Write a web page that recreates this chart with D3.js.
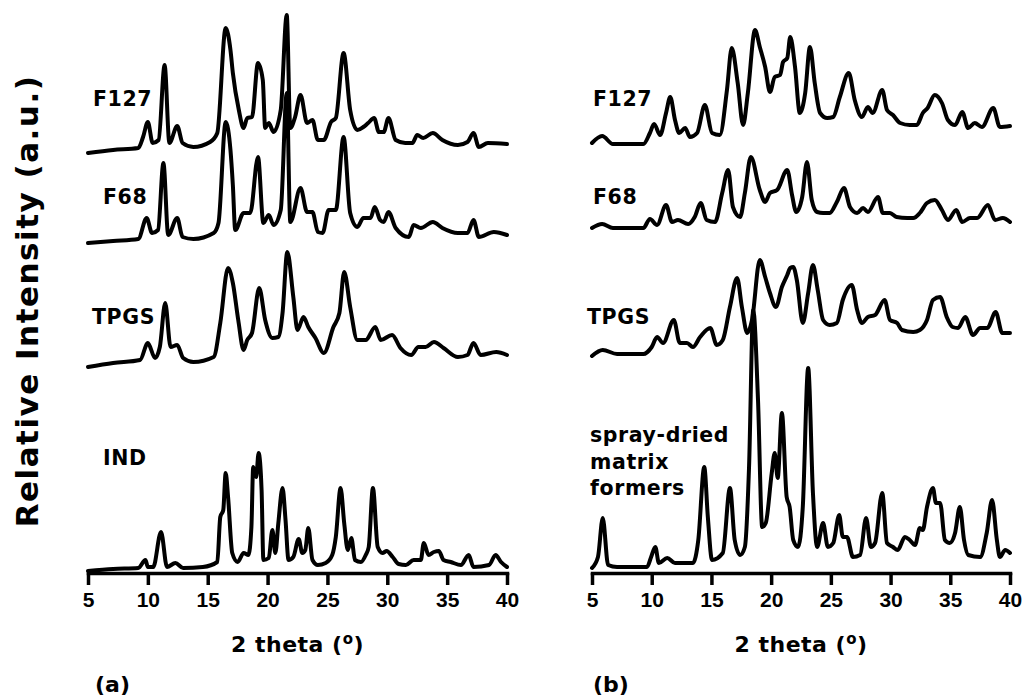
<!DOCTYPE html>
<html>
<head>
<meta charset="utf-8">
<script src="https://cdn.jsdelivr.net/npm/d3@7"></script>
<style>
  body { margin: 0; background: #fff; }
  svg { display: block; }
  .lbl { font-family: "DejaVu Sans", Verdana, sans-serif; font-weight: bold; fill: #000; }
  .tick text { font-family: "Liberation Sans", Arial, sans-serif; font-weight: bold; font-size: 21px; fill: #000; }
</style>
</head>
<body>
<svg id="chart" width="1025" height="700"></svg>
<script>
// x ticks (2 theta, degrees)
var thetaTicks = [5, 10, 15, 20, 25, 30, 35, 40];

// series names and vertical stacking offsets (a.u.)
var seriesA = ["F127", "F68", "TPGS", "IND"];
var offsetsA = [423, 333, 213, 5];
var seriesB = ["F127", "F68", "TPGS", "spray-dried matrix formers"];
var offsetsB = [430, 347, 219, 7];

// panel (a): [2theta, intensity]
var f127A = [[5.0,-3],[7.1,0],[9.2,2],[9.6,13],[10.0,28],[10.4,7],[10.9,10],[11.4,85],[11.8,7],[12.45,24],[12.9,7],[13.8,3],[15.2,8],[15.8,17],[16.5,122],[16.9,100],[17.1,77],[17.6,40],[18.0,22],[18.3,32],[18.7,33],[19.2,87],[19.6,70],[19.8,22],[20.1,27],[20.5,18],[21.1,40],[21.6,135],[21.9,22],[22.3,33],[22.75,55],[23.3,27],[23.75,30],[24.2,10],[24.7,10],[25.3,28],[25.7,32],[26.35,97],[26.9,40],[27.5,20],[28.0,23],[28.4,27],[28.9,32],[29.3,18],[29.7,18],[30.1,32],[30.7,10],[31.5,7],[32.1,7],[32.5,15],[33.0,12],[33.8,17],[34.6,10],[35.9,5],[36.7,8],[37.2,17],[37.65,3],[38.4,7],[40.0,6]];
var f68A = [[5.0,-3],[7.1,-1],[9.2,1],[9.9,22],[10.35,7],[10.85,10],[11.3,77],[11.7,5],[12.45,22],[12.9,3],[13.8,1],[15.5,7],[15.9,17],[16.5,118],[16.9,90],[17.1,55],[17.3,10],[18.0,27],[18.55,27],[19.2,83],[19.65,17],[20.1,25],[20.5,15],[21.1,30],[21.6,147],[21.9,18],[22.75,52],[23.3,28],[23.75,28],[24.2,8],[24.6,7],[25.1,30],[25.7,30],[26.35,103],[26.9,27],[27.5,13],[28.0,22],[28.6,22],[28.95,33],[29.4,20],[29.7,18],[30.1,28],[30.7,12],[31.8,3],[32.2,15],[32.8,12],[33.8,18],[34.6,12],[35.9,7],[36.7,7],[37.2,20],[37.65,3],[38.9,8],[40.0,5]];
var tpgsA = [[5.0,-7],[7.1,-3],[9.35,0],[10.0,17],[10.6,2],[11.0,13],[11.45,57],[11.9,13],[12.45,15],[12.95,2],[13.8,-2],[15.5,3],[16.05,37],[16.7,92],[17.1,77],[17.55,40],[18.0,10],[18.3,20],[18.7,27],[19.3,72],[19.8,40],[20.4,22],[20.9,23],[21.25,47],[21.65,108],[22.15,63],[22.5,30],[23.0,43],[23.4,33],[24.0,22],[24.7,7],[25.5,33],[26.0,47],[26.4,88],[26.9,53],[27.5,20],[28.2,20],[29.0,33],[29.45,20],[30.4,25],[31.1,12],[32.0,5],[32.6,13],[33.2,13],[33.9,18],[34.7,12],[35.9,3],[36.7,5],[37.2,17],[37.8,5],[39.1,8],[40.0,5]];
var indA = [[5.0,-3],[7.1,-1],[9.2,0],[9.8,8],[10.0,1],[10.45,1],[11.1,36],[11.6,1],[12.3,5],[12.95,0],[14.6,1],[15.8,6],[16.05,51],[16.3,58],[16.5,95],[16.7,71],[17.05,15],[17.5,6],[18.0,15],[18.4,13],[18.65,41],[18.8,101],[19.05,91],[19.25,115],[19.5,78],[19.65,8],[20.1,10],[20.4,38],[20.65,15],[20.9,45],[21.25,80],[21.5,48],[21.75,8],[22.15,11],[22.6,29],[22.9,15],[23.15,18],[23.4,40],[23.75,8],[24.2,3],[24.85,5],[25.4,13],[25.7,31],[26.1,80],[26.4,45],[26.7,18],[27.0,30],[27.3,8],[27.8,6],[28.2,13],[28.45,21],[28.8,80],[29.2,21],[29.6,15],[29.95,17],[30.45,11],[30.95,4],[31.55,3],[32.2,8],[32.8,8],[33.05,25],[33.45,13],[33.9,16],[34.3,17],[34.7,8],[35.3,6],[36.15,3],[36.8,13],[37.2,1],[38.5,3],[39.05,13],[39.5,6],[40.0,1]];

// panel (b): [2theta, intensity]
var f127B = [[5.0,0],[5.85,7],[6.75,-1],[9.3,-1],[9.85,10],[10.2,19],[10.7,8],[11.2,30],[11.55,46],[11.95,23],[12.3,10],[12.8,15],[13.2,6],[13.8,10],[14.45,38],[15.05,10],[15.7,8],[16.3,53],[16.7,95],[17.2,60],[17.65,18],[18.05,50],[18.65,113],[19.05,96],[19.5,76],[19.9,51],[20.3,66],[20.75,68],[21.0,81],[21.35,85],[21.6,106],[22.0,76],[22.4,30],[22.85,50],[23.25,96],[23.65,60],[24.1,30],[24.7,25],[25.2,26],[25.75,46],[26.5,70],[27.0,43],[27.6,26],[28.1,36],[28.5,30],[29.3,53],[29.7,33],[30.2,28],[30.8,20],[31.6,18],[32.2,18],[32.7,30],[33.1,35],[33.7,48],[34.3,40],[34.8,23],[35.4,18],[36.0,31],[36.5,15],[37.05,20],[37.65,16],[38.6,35],[39.15,16],[40.0,17]];
var f68B = [[5.0,-2],[5.85,2],[6.75,-2],[9.3,-2],[9.85,7],[10.45,1],[11.2,21],[11.7,4],[12.2,6],[13.05,2],[13.6,9],[14.1,23],[14.6,6],[15.3,4],[15.9,33],[16.4,56],[16.8,19],[17.4,9],[17.8,33],[18.3,69],[19.05,36],[19.5,24],[19.9,33],[20.5,36],[21.35,56],[21.75,31],[22.1,14],[22.6,29],[23.0,64],[23.4,26],[23.85,14],[24.35,13],[24.9,13],[25.5,24],[26.1,38],[26.6,19],[27.2,13],[27.7,18],[28.1,14],[28.95,29],[29.35,13],[29.95,13],[30.5,9],[31.4,8],[31.9,8],[32.45,13],[33.05,23],[33.7,26],[34.3,16],[34.8,6],[35.5,16],[36.0,4],[36.65,8],[37.25,8],[38.15,21],[38.75,6],[39.4,8],[40.0,4]];
var tpgsB = [[5.0,-2],[5.9,4],[7.1,0],[9.3,0],[10.0,7],[10.45,17],[10.95,11],[11.85,34],[12.35,11],[12.95,11],[13.45,7],[14.05,17],[14.9,26],[15.45,9],[15.95,14],[16.55,47],[17.15,76],[17.55,47],[18.0,21],[18.4,34],[19.05,94],[19.5,77],[19.9,61],[20.4,47],[20.9,67],[21.35,79],[21.6,86],[21.85,87],[22.15,74],[22.65,31],[23.1,61],[23.5,89],[23.9,64],[24.35,34],[24.9,29],[25.5,31],[26.0,54],[26.75,69],[27.2,44],[27.6,31],[28.1,37],[28.7,39],[29.5,54],[29.95,34],[30.55,31],[30.95,24],[31.9,22],[32.45,24],[33.05,34],[33.55,54],[34.15,57],[34.7,37],[35.2,27],[35.65,26],[36.25,37],[36.9,19],[37.5,26],[38.1,26],[38.8,42],[39.35,21],[40.0,21]];
var sprayB = [[5.0,-2],[5.5,9],[5.9,48],[6.35,1],[7.1,-1],[9.6,-1],[9.95,9],[10.3,19],[10.6,3],[11.3,8],[11.95,3],[13.45,3],[13.9,26],[14.4,99],[14.7,49],[15.05,6],[15.95,13],[16.55,78],[16.95,26],[17.4,11],[17.8,19],[18.15,99],[18.5,256],[18.9,166],[19.25,39],[19.55,43],[20.05,93],[20.3,113],[20.55,88],[20.9,153],[21.3,69],[21.55,59],[21.85,26],[22.25,19],[22.65,59],[23.1,198],[23.5,73],[23.85,19],[24.35,43],[24.75,19],[25.2,23],[25.7,51],[26.0,29],[26.35,29],[26.85,9],[27.45,11],[27.95,48],[28.35,19],[28.7,23],[29.3,73],[29.7,23],[30.2,19],[30.6,16],[31.2,29],[31.6,26],[32.05,21],[32.45,38],[32.7,36],[33.05,59],[33.55,78],[33.8,63],[34.15,63],[34.55,26],[34.95,23],[35.4,33],[35.8,59],[36.15,26],[36.5,11],[37.5,9],[38.05,33],[38.5,66],[38.9,26],[39.15,9],[39.6,16],[40.0,13]];

var svg = d3.select("#chart");

var axisY = 573;
var y = d3.scaleLinear().domain([0, 560]).range([axisY, 13]);

var panels = [
    {x0: 88, x1: 507, data: [f127A, f68A, tpgsA, indA], names: seriesA, offsets: offsetsA,
     labelPos: [[93, 106], [103, 204], [92, 324], [103, 465]], tag: "(a)", tagX: 95},
    {x0: 592, x1: 1010, data: [f127B, f68B, tpgsB, sprayB], names: seriesB, offsets: offsetsB,
     labelPos: [[593, 106], [593, 204], [587, 324], [590, 442]], tag: "(b)", tagX: 593}
];

panels.forEach(function(p) {
    var x = d3.scaleLinear().domain([5, 40]).range([p.x0, p.x1]);

    p.data.forEach(function(series, i) {
        var off = p.offsets[i];
        var line = d3.line()
            .curve(d3.curveMonotoneX)
            .x(function(d) { return x(d[0]); })
            .y(function(d) { return y(d[1] + off); });

        svg.append("path")
            .datum(series)
            .attr("d", line)
            .attr("fill", "none")
            .attr("stroke", "#000")
            .attr("stroke-width", 4)
            .attr("stroke-linejoin", "round")
            .attr("stroke-linecap", "round");

        // series label, multi-word one wraps over lines
        var words = p.names[i].indexOf(" ") > 0 ? p.names[i].split(" ") : [p.names[i]];
        var t = svg.append("text")
            .attr("class", "lbl")
            .attr("x", p.labelPos[i][0])
            .attr("y", p.labelPos[i][1])
            .style("font-size", "20.5px")
            .style("letter-spacing", "0.6px");
        words.forEach(function(w, k) {
            t.append("tspan")
                .attr("x", p.labelPos[i][0])
                .attr("dy", k === 0 ? 0 : 26.5)
                .text(w);
        });
    });

    var g = svg.append("g")
        .attr("transform", "translate(0," + axisY + ")")
        .call(d3.axisBottom(x).tickValues(thetaTicks).tickSize(12).tickSizeOuter(0).tickPadding(7));
    g.select(".domain").attr("stroke-width", 3.5).attr("stroke-linecap", "square");
    g.selectAll(".tick line").attr("stroke-width", 3.5);

    var title = svg.append("text")
        .attr("class", "lbl")
        .attr("x", (p.x0 + p.x1) / 2)
        .attr("y", 652)
        .attr("text-anchor", "middle")
        .style("font-size", "22px")
        .style("letter-spacing", "0.5px");
    title.append("tspan").text("2 theta (");
    title.append("tspan").attr("dy", -8).style("font-size", "15px").text("o");
    title.append("tspan").attr("dy", 8).text(")");

    svg.append("text")
        .attr("class", "lbl")
        .attr("x", p.tagX)
        .attr("y", 692)
        .style("font-size", "22px")
        .text(p.tag);
});

svg.append("text")
    .attr("class", "lbl")
    .attr("transform", "translate(38,301) rotate(-90)")
    .attr("text-anchor", "middle")
    .style("font-size", "31px")
    .style("letter-spacing", "1.5px")
    .text("Relative Intensity (a.u.)");
</script>
</body>
</html>
